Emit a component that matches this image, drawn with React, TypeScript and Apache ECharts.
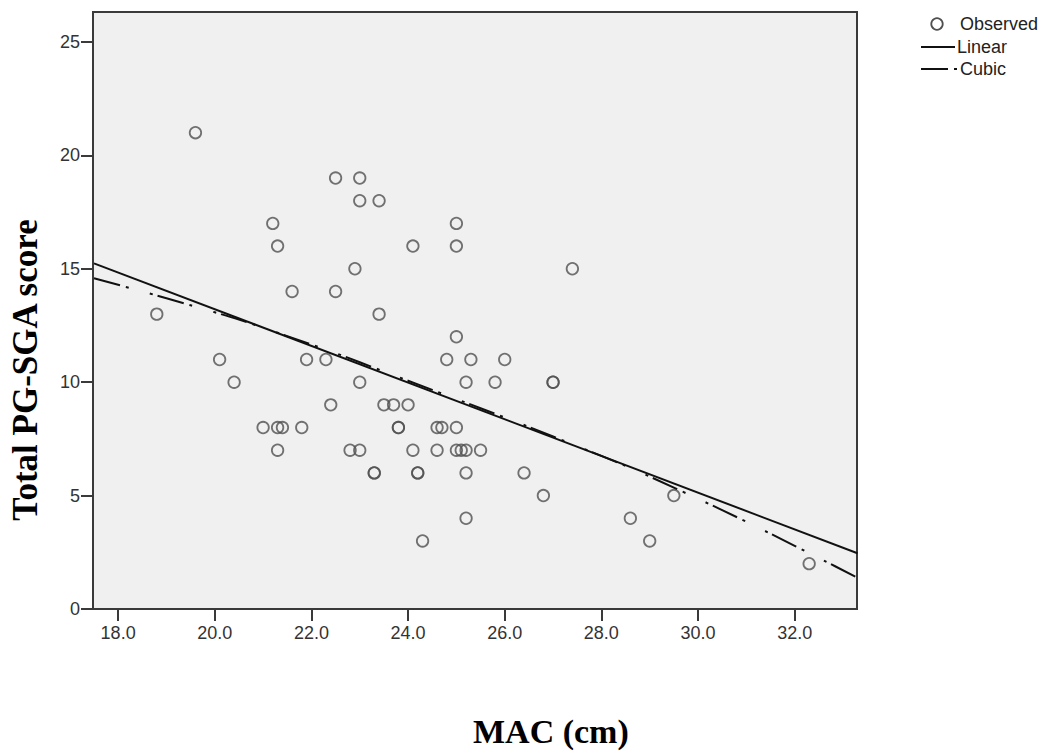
import React, { useEffect, useRef } from "react";
import * as echarts from "echarts";

// Observed points (MAC cm, Total PG-SGA score)
const obsX = [
  18.8, 19.6, 20.1, 20.4, 21.0, 21.2, 21.3, 21.3, 21.4, 21.3, 21.6, 21.8, 21.9, 22.3, 22.4,
  22.5, 22.5, 22.8, 22.9, 23.0, 23.0, 23.0, 23.0, 23.3, 23.3, 23.4, 23.4, 23.5, 23.7, 23.8,
  23.8, 24.0, 24.1, 24.1, 24.2, 24.2, 24.3, 24.6, 24.7, 24.6, 24.8, 25.0, 25.0, 25.0, 25.0,
  25.0, 25.1, 25.2, 25.2, 25.2, 25.2, 25.3, 25.5, 25.8, 26.0, 26.4, 26.8, 27.0, 27.0, 27.4,
  28.6, 29.0, 29.5, 32.3,
];
const obsY = [
  13, 21, 11, 10, 8, 17, 16, 8, 8, 7, 14, 8, 11, 11, 9,
  19, 14, 7, 15, 19, 18, 10, 7, 6, 6, 18, 13, 9, 9, 8,
  8, 9, 16, 7, 6, 6, 3, 8, 8, 7, 11, 17, 16, 12, 8,
  7, 7, 7, 10, 6, 4, 11, 7, 10, 11, 6, 5, 10, 10, 15,
  4, 3, 5, 2,
];

// Fitted lines
const linearX = [17.5, 33.3];
const linearY = [15.24, 2.46];
const cubicX = [17.5, 18.5, 19.5, 20.5, 21.5, 22.5, 23.5, 24.5, 25.5, 26.5, 27.5, 28.5, 29.5, 30.5, 31.5, 32.5, 33.3];
const cubicY = [14.58, 14.0, 13.39, 12.76, 12.03, 11.28, 10.47, 9.66, 8.85, 8.03, 7.18, 6.31, 5.35, 4.36, 3.32, 2.25, 1.38];

const xTicks = [18, 20, 22, 24, 26, 28, 30, 32];
const yTicks = [0, 5, 10, 15, 20, 25];

const legendLabels = ["Observed", "Linear", "Cubic"];
const xTitle = "MAC (cm)";
const yTitle = "Total PG-SGA score";

const DASH = [27, 6, 3, 22, 3, 5];

export default function App() {
  const ref = useRef<HTMLDivElement>(null);
  useEffect(() => {
    if (!ref.current) return;
    const chart = echarts.init(ref.current, null, { renderer: "svg" });
    const axisColor = "#3a3a3a";
    const labelFont = "'Liberation Sans', Arial, sans-serif";
    chart.setOption({
      animation: false,
      backgroundColor: "#ffffff",
      grid: {
        show: true,
        left: 93,
        top: 12,
        width: 764,
        height: 597,
        backgroundColor: "#f0f0f0",
        borderColor: axisColor,
        borderWidth: 2,
      },
      xAxis: {
        type: "value",
        min: 17.48,
        max: 33.29,
        axisLine: { show: true, lineStyle: { color: axisColor, width: 2 } },
        axisTick: { show: true, length: 12, customValues: xTicks, lineStyle: { color: axisColor, width: 2 } },
        axisLabel: {
          customValues: xTicks,
          formatter: (v: number) => v.toFixed(1),
          margin: 15,
          color: "#333",
          fontSize: 18,
          fontFamily: labelFont,
        },
        splitLine: { show: false },
      },
      yAxis: {
        type: "value",
        min: 0,
        max: 26.32,
        axisLine: { show: true, lineStyle: { color: axisColor, width: 2 } },
        axisTick: { show: true, length: 12, customValues: yTicks, lineStyle: { color: axisColor, width: 2 } },
        axisLabel: {
          customValues: yTicks,
          margin: 13,
          color: "#333",
          fontSize: 18,
          fontFamily: labelFont,
        },
        splitLine: { show: false },
      },
      series: [
        {
          name: legendLabels[0],
          type: "scatter",
          symbol: "circle",
          symbolSize: 11.5,
          itemStyle: { color: "rgba(0,0,0,0)", borderColor: "#505050", borderWidth: 1.8 },
          data: obsX.map((x, i) => [x, obsY[i]]),
          z: 2,
        },
        {
          name: legendLabels[1],
          type: "line",
          showSymbol: false,
          lineStyle: { color: "#111", width: 2 },
          data: linearX.map((x, i) => [x, linearY[i]]),
          z: 3,
        },
        {
          name: legendLabels[2],
          type: "line",
          showSymbol: false,
          smooth: 0.3,
          lineStyle: { color: "#111", width: 2, type: DASH },
          data: cubicX.map((x, i) => [x, cubicY[i]]),
          z: 3,
        },
      ],
      graphic: [
        {
          type: "circle",
          shape: { cx: 937, cy: 24, r: 5.75 },
          style: { fill: "#fff", stroke: "#505050", lineWidth: 1.8 },
        },
        {
          type: "text",
          x: 960,
          y: 24,
          style: { text: legendLabels[0], fill: "#222", font: `18px ${labelFont}`, verticalAlign: "middle", align: "left" },
        },
        {
          type: "line",
          shape: { x1: 921, y1: 47, x2: 955, y2: 47 },
          style: { stroke: "#111", lineWidth: 2 },
        },
        {
          type: "text",
          x: 957,
          y: 47,
          style: { text: legendLabels[1], fill: "#222", font: `18px ${labelFont}`, verticalAlign: "middle", align: "left" },
        },
        {
          type: "line",
          shape: { x1: 921, y1: 69, x2: 958, y2: 69 },
          style: { stroke: "#111", lineWidth: 2, lineDash: DASH },
        },
        {
          type: "text",
          x: 960,
          y: 69,
          style: { text: legendLabels[2], fill: "#222", font: `18px ${labelFont}`, verticalAlign: "middle", align: "left" },
        },
        {
          type: "text",
          x: 25,
          y: 370,
          rotation: Math.PI / 2,
          style: {
            text: yTitle,
            fill: "#000",
            font: `bold 35px 'Liberation Serif', 'Times New Roman', serif`,
            align: "center",
            verticalAlign: "middle",
          },
        },
        {
          type: "text",
          x: 473,
          y: 731,
          style: {
            text: xTitle,
            fill: "#000",
            font: `bold 34px 'Liberation Serif', 'Times New Roman', serif`,
            align: "left",
            verticalAlign: "middle",
          },
        },
      ],
    });
    return () => chart.dispose();
  }, []);
  return (
    <div
      ref={ref}
      style={{ position: "fixed", left: 0, top: 0, width: 1053, height: 751, background: "#fff" }}
    />
  );
}
